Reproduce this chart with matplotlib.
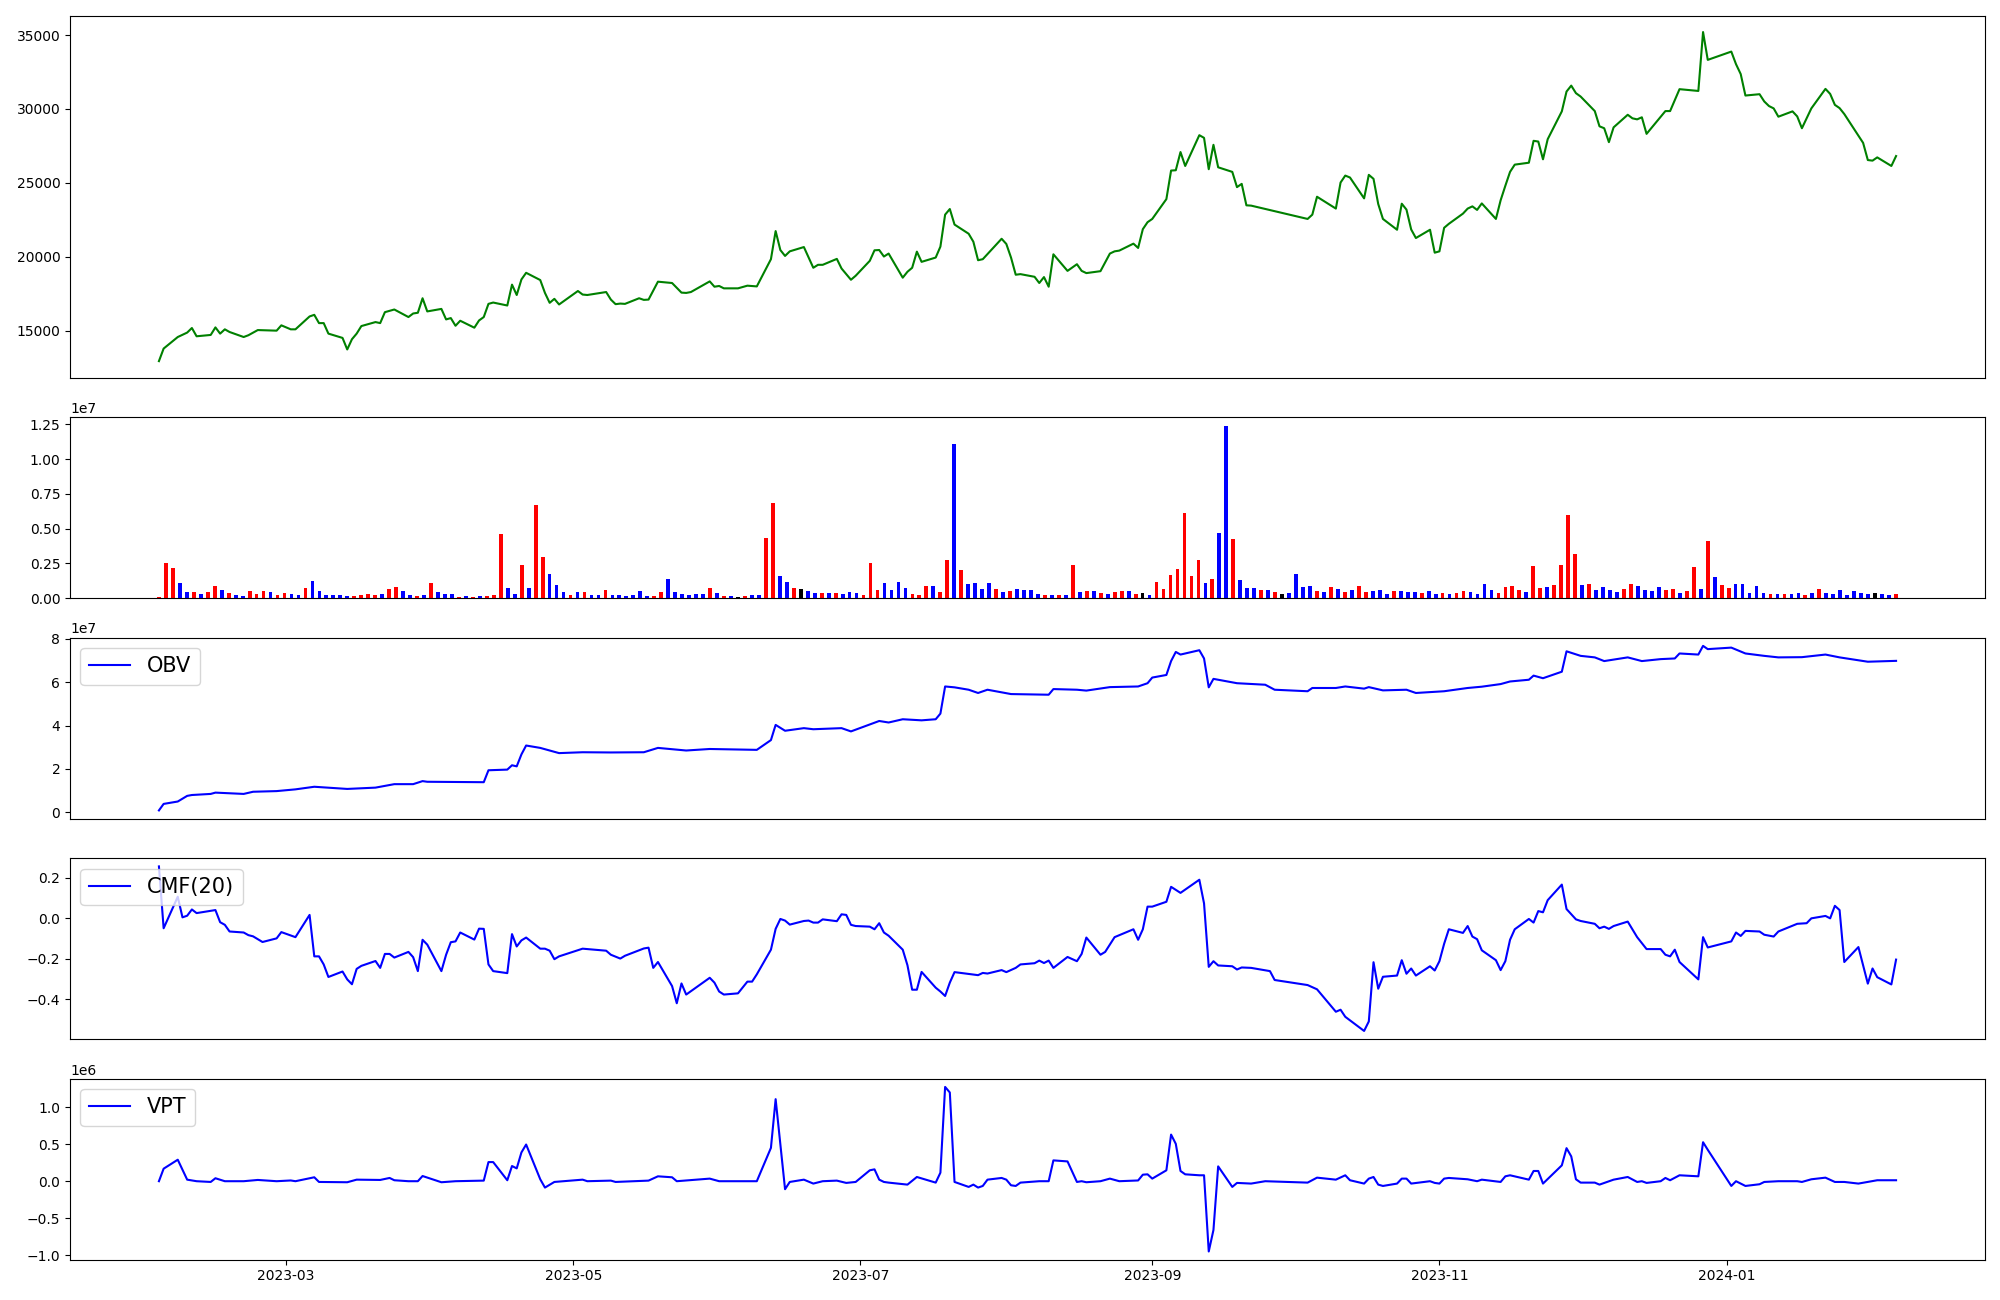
import numpy as np
import pandas as pd
import matplotlib
matplotlib.use("Agg")
import matplotlib.pyplot as plt
import matplotlib.dates as mdates

# ---------------- data ----------------
price_points = [("2023-02-02",12960),("2023-02-03",13810),("2023-02-06",14590),("2023-02-08",14890),("2023-02-09",15200),("2023-02-10",14640),("2023-02-13",14730),("2023-02-14",15240),("2023-02-15",14820),("2023-02-16",15110),("2023-02-17",14930),("2023-02-20",14590),("2023-02-21",14710),("2023-02-23",15060),("2023-02-27",15020),("2023-02-28",15380),("2023-03-02",15110),("2023-03-03",15110),("2023-03-06",15980),("2023-03-07",16090),("2023-03-08",15530),("2023-03-09",15530),("2023-03-10",14820),("2023-03-13",14530),("2023-03-14",13750),("2023-03-15",14440),("2023-03-16",14820),("2023-03-17",15330),("2023-03-20",15600),("2023-03-21",15530),("2023-03-22",16270),("2023-03-24",16450),("2023-03-27",15940),("2023-03-28",16180),("2023-03-29",16230),("2023-03-30",17210),("2023-03-31",16320),("2023-04-03",16490),("2023-04-04",15780),("2023-04-05",15870),("2023-04-06",15350),("2023-04-07",15690),("2023-04-10",15220),("2023-04-11",15710),("2023-04-12",15940),("2023-04-13",16830),("2023-04-14",16920),("2023-04-17",16720),("2023-04-18",18130),("2023-04-19",17430),("2023-04-20",18480),("2023-04-21",18930),("2023-04-24",18440),("2023-04-25",17570),("2023-04-26",16900),("2023-04-27",17170),("2023-04-28",16790),("2023-05-02",17700),("2023-05-03",17460),("2023-05-04",17430),("2023-05-08",17630),("2023-05-09",17120),("2023-05-10",16810),("2023-05-11",16850),("2023-05-12",16830),("2023-05-15",17210),("2023-05-16",17100),("2023-05-17",17120),("2023-05-19",18330),("2023-05-22",18240),("2023-05-24",17590),("2023-05-25",17570),("2023-05-26",17630),("2023-05-30",18350),("2023-05-31",17990),("2023-06-01",18040),("2023-06-02",17880),("2023-06-05",17880),("2023-06-07",18060),("2023-06-09",18010),("2023-06-12",19850),("2023-06-13",21750),("2023-06-14",20470),("2023-06-15",20070),("2023-06-16",20380),("2023-06-19",20670),("2023-06-21",19270),("2023-06-22",19470),("2023-06-23",19470),("2023-06-26",19870),("2023-06-27",19220),("2023-06-29",18460),("2023-06-30",18730),("2023-07-03",19740),("2023-07-04",20450),("2023-07-05",20470),("2023-07-06",20030),("2023-07-07",20230),("2023-07-10",18600),("2023-07-11",19000),("2023-07-12",19270),("2023-07-13",20360),("2023-07-14",19670),("2023-07-17",19960),("2023-07-18",20700),("2023-07-19",22860),("2023-07-20",23240),("2023-07-21",22190),("2023-07-24",21570),("2023-07-25",21030),("2023-07-26",19780),("2023-07-27",19850),("2023-07-31",21230),("2023-08-01",20880),("2023-08-02",19960),("2023-08-03",18800),("2023-08-04",18840),("2023-08-07",18660),("2023-08-08",18240),("2023-08-09",18640),("2023-08-10",17990),("2023-08-11",20180),("2023-08-14",19060),("2023-08-16",19510),("2023-08-17",19060),("2023-08-18",18910),("2023-08-21",19040),("2023-08-23",20230),("2023-08-24",20380),("2023-08-25",20430),("2023-08-28",20900),("2023-08-29",20610),("2023-08-30",21880),("2023-08-31",22350),("2023-09-01",22570),("2023-09-04",23910),("2023-09-05",25840),("2023-09-06",25860),("2023-09-07",27090),("2023-09-08",26150),("2023-09-11",28230),("2023-09-12",28050),("2023-09-13",25930),("2023-09-14",27580),("2023-09-15",26060),("2023-09-18",25750),("2023-09-19",24720),("2023-09-20",24940),("2023-09-21",23490),("2023-09-22",23470),("2023-10-04",22570),("2023-10-05",22860),("2023-10-06",24070),("2023-10-10",23270),("2023-10-11",25030),("2023-10-12",25500),("2023-10-13",25370),("2023-10-16",23960),("2023-10-17",25550),("2023-10-18",25280),("2023-10-19",23580),("2023-10-20",22570),("2023-10-23",21840),("2023-10-24",23600),("2023-10-25",23200),("2023-10-26",21860),("2023-10-27",21280),("2023-10-30",21840),("2023-10-31",20290),("2023-11-01",20380),("2023-11-02",21970),("2023-11-03",22240),("2023-11-06",22930),("2023-11-07",23270),("2023-11-08",23420),("2023-11-09",23180),("2023-11-10",23620),("2023-11-13",22570),("2023-11-14",23830),("2023-11-15",24810),("2023-11-16",25750),("2023-11-17",26240),("2023-11-20",26370),("2023-11-21",27850),("2023-11-22",27800),("2023-11-23",26600),("2023-11-24",27960),("2023-11-27",29840),("2023-11-28",31180),("2023-11-29",31580),("2023-11-30",31070),("2023-12-01",30840),("2023-12-04",29860),("2023-12-05",28830),("2023-12-06",28700),("2023-12-07",27760),("2023-12-08",28760),("2023-12-11",29610),("2023-12-12",29370),("2023-12-13",29300),("2023-12-14",29440),("2023-12-15",28320),("2023-12-19",29860),("2023-12-20",29860),("2023-12-22",31340),("2023-12-26",31220),("2023-12-27",35200),("2023-12-28",33320),("2024-01-02",33880),("2024-01-03",33030),("2024-01-04",32360),("2024-01-05",30910),("2024-01-08",31000),("2024-01-09",30510),("2024-01-10",30200),("2024-01-11",30040),("2024-01-12",29480),("2024-01-15",29840),("2024-01-16",29500),("2024-01-17",28700),("2024-01-19",30040),("2024-01-22",31360),("2024-01-23",31020),("2024-01-24",30280),("2024-01-25",30060),("2024-01-26",29660),("2024-01-30",27710),("2024-01-31",26550),("2024-02-01",26510),("2024-02-02",26730),("2024-02-05",26150),("2024-02-06",26820)]

# daily volume, in millions of shares (one bar per trading day)
volume_millions = [0.07,2.50,2.15,1.07,0.43,0.43,0.29,0.43,0.86,0.57,
                   0.36,0.21,0.14,0.50,0.29,0.50,0.43,0.21,0.36,0.29,
                   0.21,0.72,1.22,0.50,0.21,0.21,0.21,0.14,0.14,0.21,
                   0.29,0.21,0.29,0.64,0.79,0.50,0.21,0.14,0.21,1.07,
                   0.43,0.29,0.29,0.07,0.14,0.07,0.14,0.14,0.21,4.58,
                   0.72,0.29,2.36,0.72,6.73,2.93,1.72,0.93,0.43,0.21,
                   0.43,0.43,0.21,0.21,0.57,0.21,0.21,0.14,0.21,0.50,
                   0.14,0.14,0.43,1.36,0.43,0.29,0.21,0.29,0.29,0.72,
                   0.36,0.14,0.14,0.07,0.14,0.21,0.21,4.29,6.87,1.57,
                   1.15,0.72,0.64,0.50,0.36,0.36,0.36,0.36,0.29,0.43,
                   0.36,0.21,2.50,0.57,1.07,0.57,1.15,0.72,0.29,0.21,
                   0.86,0.86,0.43,2.72,11.09,2.00,1.00,1.07,0.64,1.07,
                   0.64,0.43,0.50,0.64,0.57,0.57,0.29,0.21,0.21,0.21,
                   0.21,2.36,0.43,0.50,0.50,0.36,0.29,0.43,0.50,0.50,
                   0.29,0.36,0.21,1.15,0.64,1.65,2.08,6.15,1.57,2.72,
                   1.07,1.36,4.65,12.40,4.22,1.29,0.72,0.72,0.57,0.57,
                   0.43,0.29,0.36,1.72,0.79,0.86,0.50,0.43,0.79,0.64,
                   0.43,0.57,0.86,0.43,0.50,0.57,0.29,0.50,0.50,0.43,
                   0.43,0.36,0.50,0.29,0.36,0.29,0.36,0.50,0.43,0.29,
                   1.00,0.57,0.36,0.79,0.86,0.57,0.43,2.29,0.72,0.79,
                   0.93,2.36,6.01,3.15,0.93,1.00,0.57,0.79,0.57,0.43,
                   0.64,1.00,0.86,0.57,0.50,0.79,0.57,0.64,0.36,0.50,
                   2.22,0.64,4.08,1.50,0.93,0.72,1.00,1.00,0.36,0.86,
                   0.36,0.29,0.29,0.29,0.29,0.36,0.21,0.36,0.64,0.36,
                   0.29,0.57,0.21,0.50,0.36,0.29,0.36,0.29,0.21,0.29]

# bar colour per day: r = red, b = blue, k = black
volume_colour_codes = ("rrrbbrbrrb" "rbbrrrbrrb" "brbbbbbbrr" "rrbrrbbrbr" "bbbrbrbrrr"
                       "bbrbrrbbbr" "brbbrbbbbb" "brrbbbbbbr" "brbkrbbrrb" "brkbbrbrbb"
                       "brrrbbbbrr" "rbrrbrbbbb" "rbrbbbbrbr" "brbrbrbrrb" "rkbrrrrrrr"
                       "brbbrbbbrb" "rkbbbbrbrb" "rbrrbbbrbb" "brbbrbrrbb" "bbrrrrbrrb"
                       "rrrrbrbbbb" "rrbbbbrrbr" "rbrbrrbbbb" "brbrbbrbrb" "bbbbbbkbbr")
volume_first_day = "2023-02-02"
volume_last_day = "2024-02-06"

# OBV in units of 1e7
obv_points = [("2023-02-02",0.09),("2023-02-03",0.39),("2023-02-06",0.50),("2023-02-08",0.76),("2023-02-09",0.80),("2023-02-13",0.85),("2023-02-14",0.91),("2023-02-20",0.85),("2023-02-22",0.95),("2023-02-27",0.98),("2023-03-03",1.06),("2023-03-07",1.18),("2023-03-14",1.08),("2023-03-20",1.14),("2023-03-24",1.30),("2023-03-28",1.30),("2023-03-30",1.44),("2023-03-31",1.41),("2023-04-12",1.39),("2023-04-13",1.94),("2023-04-17",1.97),("2023-04-18",2.17),("2023-04-19",2.12),("2023-04-20",2.67),("2023-04-21",3.08),("2023-04-24",2.97),("2023-04-28",2.73),("2023-05-03",2.77),("2023-05-09",2.76),("2023-05-16",2.77),("2023-05-19",2.97),("2023-05-25",2.85),("2023-05-30",2.92),("2023-06-09",2.88),("2023-06-12",3.33),("2023-06-13",4.03),("2023-06-15",3.76),("2023-06-19",3.88),("2023-06-21",3.83),("2023-06-27",3.88),("2023-06-29",3.73),("2023-07-05",4.21),("2023-07-07",4.14),("2023-07-10",4.29),("2023-07-14",4.24),("2023-07-17",4.29),("2023-07-18",4.55),("2023-07-19",5.80),("2023-07-21",5.76),("2023-07-24",5.65),("2023-07-26",5.50),("2023-07-28",5.65),("2023-08-02",5.45),("2023-08-10",5.42),("2023-08-11",5.68),("2023-08-16",5.65),("2023-08-18",5.61),("2023-08-23",5.77),("2023-08-29",5.80),("2023-08-31",5.95),("2023-09-01",6.21),("2023-09-04",6.33),("2023-09-05",6.97),("2023-09-06",7.39),("2023-09-07",7.27),("2023-09-11",7.47),("2023-09-12",7.09),("2023-09-13",5.76),("2023-09-14",6.15),("2023-09-19",5.95),("2023-09-25",5.88),("2023-09-27",5.65),("2023-10-04",5.58),("2023-10-05",5.73),("2023-10-10",5.73),("2023-10-12",5.80),("2023-10-16",5.70),("2023-10-17",5.77),("2023-10-20",5.62),("2023-10-25",5.65),("2023-10-27",5.50),("2023-11-02",5.58),("2023-11-07",5.73),("2023-11-10",5.79),("2023-11-14",5.91),("2023-11-16",6.03),("2023-11-20",6.11),("2023-11-21",6.30),("2023-11-23",6.18),("2023-11-27",6.48),("2023-11-28",7.42),("2023-12-01",7.21),("2023-12-04",7.14),("2023-12-06",6.97),("2023-12-11",7.14),("2023-12-14",6.97),("2023-12-18",7.06),("2023-12-21",7.09),("2023-12-22",7.32),("2023-12-26",7.27),("2023-12-27",7.67),("2023-12-28",7.52),("2024-01-02",7.59),("2024-01-05",7.32),("2024-01-09",7.21),("2024-01-12",7.14),("2024-01-17",7.15),("2024-01-22",7.27),("2024-01-25",7.14),("2024-01-31",6.94),("2024-02-06",6.98)]

cmf_points = [("2023-02-02",0.257),("2023-02-03",-0.049),("2023-02-06",0.107),("2023-02-07",0.005),("2023-02-08",0.013),("2023-02-09",0.044),("2023-02-10",0.026),("2023-02-14",0.041),("2023-02-15",-0.019),("2023-02-16",-0.032),("2023-02-17",-0.065),("2023-02-20",-0.070),("2023-02-21",-0.083),("2023-02-22",-0.089),("2023-02-24",-0.117),("2023-02-27",-0.099),("2023-02-28",-0.068),("2023-03-03",-0.093),("2023-03-06",0.017),("2023-03-07",-0.188),("2023-03-08",-0.188),("2023-03-09",-0.228),("2023-03-10",-0.290),("2023-03-13",-0.263),("2023-03-14",-0.302),("2023-03-15",-0.326),("2023-03-16",-0.250),("2023-03-17",-0.235),("2023-03-20",-0.211),("2023-03-21",-0.245),("2023-03-22",-0.176),("2023-03-23",-0.176),("2023-03-24",-0.194),("2023-03-27",-0.166),("2023-03-28",-0.192),("2023-03-29",-0.261),("2023-03-30",-0.106),("2023-03-31",-0.130),("2023-04-03",-0.261),("2023-04-04",-0.180),("2023-04-05",-0.118),("2023-04-06",-0.114),("2023-04-07",-0.070),("2023-04-10",-0.105),("2023-04-11",-0.051),("2023-04-12",-0.052),("2023-04-13",-0.228),("2023-04-14",-0.261),("2023-04-17",-0.271),("2023-04-18",-0.078),("2023-04-19",-0.139),("2023-04-20",-0.109),("2023-04-21",-0.095),("2023-04-24",-0.150),("2023-04-25",-0.150),("2023-04-26",-0.160),("2023-04-27",-0.202),("2023-04-28",-0.188),("2023-05-03",-0.150),("2023-05-08",-0.160),("2023-05-09",-0.180),("2023-05-11",-0.199),("2023-05-12",-0.185),("2023-05-16",-0.149),("2023-05-17",-0.145),("2023-05-18",-0.245),("2023-05-19",-0.216),("2023-05-22",-0.335),("2023-05-23",-0.420),("2023-05-24",-0.322),("2023-05-25",-0.377),("2023-05-30",-0.294),("2023-05-31",-0.318),("2023-06-01",-0.362),("2023-06-02",-0.377),("2023-06-05",-0.371),("2023-06-07",-0.313),("2023-06-08",-0.313),("2023-06-09",-0.277),("2023-06-12",-0.155),("2023-06-13",-0.052),("2023-06-14",-0.003),("2023-06-15",-0.011),("2023-06-16",-0.031),("2023-06-19",-0.013),("2023-06-20",-0.011),("2023-06-21",-0.021),("2023-06-22",-0.021),("2023-06-23",-0.005),("2023-06-26",-0.014),("2023-06-27",0.020),("2023-06-28",0.017),("2023-06-29",-0.032),("2023-06-30",-0.038),("2023-07-03",-0.041),("2023-07-04",-0.054),("2023-07-05",-0.024),("2023-07-06",-0.070),("2023-07-07",-0.086),("2023-07-10",-0.155),("2023-07-11",-0.232),("2023-07-12",-0.353),("2023-07-13",-0.353),("2023-07-14",-0.265),("2023-07-17",-0.343),("2023-07-18",-0.362),("2023-07-19",-0.384),("2023-07-20",-0.318),("2023-07-21",-0.266),("2023-07-26",-0.281),("2023-07-27",-0.270),("2023-07-28",-0.273),("2023-07-31",-0.256),("2023-08-01",-0.266),("2023-08-03",-0.245),("2023-08-04",-0.228),("2023-08-07",-0.222),("2023-08-08",-0.209),("2023-08-09",-0.221),("2023-08-10",-0.209),("2023-08-11",-0.245),("2023-08-14",-0.191),("2023-08-16",-0.212),("2023-08-17",-0.176),("2023-08-18",-0.095),("2023-08-21",-0.180),("2023-08-22",-0.166),("2023-08-23",-0.130),("2023-08-24",-0.093),("2023-08-28",-0.054),("2023-08-29",-0.106),("2023-08-30",-0.054),("2023-08-31",0.058),("2023-09-01",0.058),("2023-09-04",0.082),("2023-09-05",0.156),("2023-09-07",0.126),("2023-09-11",0.191),("2023-09-12",0.074),("2023-09-13",-0.240),("2023-09-14",-0.212),("2023-09-15",-0.233),("2023-09-18",-0.237),("2023-09-19",-0.253),("2023-09-20",-0.243),("2023-09-22",-0.245),("2023-09-26",-0.261),("2023-09-27",-0.305),("2023-10-04",-0.330),("2023-10-06",-0.351),("2023-10-10",-0.462),("2023-10-11",-0.452),("2023-10-12",-0.487),("2023-10-16",-0.557),("2023-10-17",-0.510),("2023-10-18",-0.217),("2023-10-19",-0.348),("2023-10-20",-0.289),("2023-10-23",-0.283),("2023-10-24",-0.207),("2023-10-25",-0.274),("2023-10-26",-0.248),("2023-10-27",-0.283),("2023-10-30",-0.237),("2023-10-31",-0.258),("2023-11-01",-0.212),("2023-11-02",-0.126),("2023-11-03",-0.054),("2023-11-06",-0.072),("2023-11-07",-0.038),("2023-11-08",-0.090),("2023-11-09",-0.103),("2023-11-10",-0.158),("2023-11-13",-0.207),("2023-11-14",-0.256),("2023-11-15",-0.212),("2023-11-16",-0.106),("2023-11-17",-0.054),("2023-11-20",-0.003),("2023-11-21",-0.021),("2023-11-22",0.036),("2023-11-23",0.030),("2023-11-24",0.090),("2023-11-27",0.167),("2023-11-28",0.046),("2023-11-30",-0.005),("2023-12-01",-0.013),("2023-12-04",-0.027),("2023-12-05",-0.049),("2023-12-06",-0.041),("2023-12-07",-0.052),("2023-12-08",-0.038),("2023-12-11",-0.016),("2023-12-13",-0.093),("2023-12-15",-0.152),("2023-12-18",-0.152),("2023-12-19",-0.180),("2023-12-20",-0.188),("2023-12-21",-0.155),("2023-12-22",-0.216),("2023-12-26",-0.302),("2023-12-27",-0.093),("2023-12-28",-0.144),("2024-01-02",-0.114),("2024-01-03",-0.070),("2024-01-04",-0.087),("2024-01-05",-0.062),("2024-01-08",-0.065),("2024-01-09",-0.081),("2024-01-11",-0.090),("2024-01-12",-0.065),("2024-01-16",-0.027),("2024-01-18",-0.024),("2024-01-19",0.000),("2024-01-22",0.012),("2024-01-23",0.000),("2024-01-24",0.062),("2024-01-25",0.041),("2024-01-26",-0.216),("2024-01-29",-0.142),("2024-01-31",-0.323),("2024-02-01",-0.248),("2024-02-02",-0.291),("2024-02-05",-0.327),("2024-02-06",-0.204)]

# VPT in units of 1e6
vpt_points = [("2023-02-02",0.0),("2023-02-03",0.169),("2023-02-06",0.290),("2023-02-08",0.021),("2023-02-10",0.0),("2023-02-13",-0.01),("2023-02-14",0.04),("2023-02-16",0.0),("2023-02-20",0.0),("2023-02-23",0.017),("2023-02-27",0.0),("2023-03-02",0.01),("2023-03-03",0.0),("2023-03-07",0.053),("2023-03-08",-0.01),("2023-03-14",-0.014),("2023-03-16",0.021),("2023-03-21",0.017),("2023-03-23",0.044),("2023-03-24",0.013),("2023-03-27",0.0),("2023-03-29",0.0),("2023-03-30",0.07),("2023-04-03",-0.014),("2023-04-06",0.0),("2023-04-12",0.008),("2023-04-13",0.258),("2023-04-14",0.258),("2023-04-17",0.013),("2023-04-18",0.205),("2023-04-19",0.173),("2023-04-20",0.388),("2023-04-21",0.495),("2023-04-24",0.026),("2023-04-25",-0.086),("2023-04-27",-0.010),("2023-05-03",0.021),("2023-05-04",0.0),("2023-05-09",0.008),("2023-05-10",-0.01),("2023-05-17",0.008),("2023-05-19",0.066),("2023-05-22",0.053),("2023-05-23",0.0),("2023-05-30",0.035),("2023-06-01",0.0),("2023-06-09",0.0),("2023-06-12",0.450),("2023-06-13",1.107),("2023-06-15",-0.108),("2023-06-16",-0.01),("2023-06-19",0.021),("2023-06-21",-0.032),("2023-06-23",0.0),("2023-06-26",0.008),("2023-06-28",-0.023),("2023-06-30",-0.01),("2023-07-03",0.147),("2023-07-04",0.160),("2023-07-05",0.021),("2023-07-06",-0.01),("2023-07-07",-0.019),("2023-07-11",-0.046),("2023-07-13",0.057),("2023-07-17",-0.019),("2023-07-18",0.115),("2023-07-19",1.272),("2023-07-20",1.197),("2023-07-21",-0.01),("2023-07-24",-0.077),("2023-07-25",-0.046),("2023-07-26",-0.086),("2023-07-27",-0.064),("2023-07-28",0.021),("2023-07-31",0.044),("2023-08-01",0.021),("2023-08-02",-0.055),("2023-08-03",-0.064),("2023-08-04",-0.019),("2023-08-08",0.0),("2023-08-10",0.0),("2023-08-11",0.281),("2023-08-14",0.267),("2023-08-16",-0.01),("2023-08-17",0.0),("2023-08-18",-0.014),("2023-08-21",0.0),("2023-08-23",0.035),("2023-08-25",0.0),("2023-08-29",0.01),("2023-08-30",0.088),("2023-08-31",0.093),("2023-09-01",0.035),("2023-09-04",0.147),("2023-09-05",0.629),("2023-09-06",0.504),("2023-09-07",0.138),("2023-09-08",0.093),("2023-09-11",0.080),("2023-09-12",0.080),("2023-09-13",-0.948),("2023-09-14",-0.658),("2023-09-15",0.200),("2023-09-18",-0.077),("2023-09-19",-0.023),("2023-09-22",-0.032),("2023-09-25",0.0),("2023-10-04",-0.019),("2023-10-06",0.048),("2023-10-10",0.021),("2023-10-12",0.080),("2023-10-13",0.013),("2023-10-16",-0.032),("2023-10-17",0.035),("2023-10-18",0.057),("2023-10-19",-0.046),("2023-10-20",-0.064),("2023-10-23",-0.032),("2023-10-24",0.035),("2023-10-25",0.035),("2023-10-26",-0.032),("2023-10-30",0.0),("2023-10-31",-0.023),("2023-11-01",-0.032),("2023-11-02",0.035),("2023-11-03",0.044),("2023-11-07",0.026),("2023-11-09",0.0),("2023-11-10",0.021),("2023-11-14",-0.01),("2023-11-15",0.066),("2023-11-16",0.080),("2023-11-20",0.021),("2023-11-21",0.138),("2023-11-22",0.138),("2023-11-23",-0.032),("2023-11-27",0.214),("2023-11-28",0.446),("2023-11-29",0.335),("2023-11-30",0.026),("2023-12-01",-0.019),("2023-12-04",-0.019),("2023-12-05",-0.046),("2023-12-08",0.021),("2023-12-11",0.057),("2023-12-13",-0.010),("2023-12-14",0.0),("2023-12-15",-0.023),("2023-12-18",0.0),("2023-12-19",0.044),("2023-12-20",0.013),("2023-12-22",0.080),("2023-12-26",0.066),("2023-12-27",0.526),("2023-12-28",0.424),("2024-01-02",-0.064),("2024-01-03",0.0),("2024-01-05",-0.064),("2024-01-08",-0.041),("2024-01-09",-0.010),("2024-01-12",0.0),("2024-01-16",0.0),("2024-01-17",-0.01),("2024-01-19",0.026),("2024-01-22",0.048),("2024-01-24",-0.01),("2024-01-26",-0.01),("2024-01-29",-0.032),("2024-01-31",-0.01),("2024-02-02",0.013),("2024-02-06",0.013)]

# ---------------- helpers ----------------
def unpack(points, scale=1.0):
    d = pd.to_datetime([p[0] for p in points])
    v = np.array([p[1] for p in points], dtype=float) * scale
    return d, v

price_d, price_v = unpack(price_points)
obv_d, obv_v = unpack(obv_points, 1e7)
cmf_d, cmf_v = unpack(cmf_points)
vpt_d, vpt_v = unpack(vpt_points, 1e6)

volume = np.array(volume_millions) * 1e6
colour_map = {"r": "red", "b": "blue", "k": "black"}
bar_colours = [colour_map[c] for c in volume_colour_codes]
n_bars = len(volume)
bar_pos = np.linspace(mdates.date2num(pd.Timestamp(volume_first_day)),
                      mdates.date2num(pd.Timestamp(volume_last_day)), n_bars)
bar_x = mdates.num2date(bar_pos)

# ---------------- figure ----------------
fig = plt.figure(figsize=(20, 13), dpi=100)
gs = fig.add_gridspec(5, 1, height_ratios=[2, 1, 1, 1, 1],
                      left=0.035, right=0.9925, top=0.988, bottom=0.031,
                      hspace=0.182)
ax0 = fig.add_subplot(gs[0])
ax1 = fig.add_subplot(gs[1], sharex=ax0)
ax2 = fig.add_subplot(gs[2], sharex=ax0)
ax3 = fig.add_subplot(gs[3], sharex=ax0)
ax4 = fig.add_subplot(gs[4], sharex=ax0)

ax0.plot(price_d, price_v, color="green", linewidth=1.5)

ax1.bar(bar_x, volume, width=0.8, color=bar_colours)

ax2.plot(obv_d, obv_v, color="blue", linewidth=1.5, label="OBV")
ax2.legend(loc="upper left", fontsize=15)

ax3.plot(cmf_d, cmf_v, color="blue", linewidth=1.5, label="CMF(20)")
ax3.legend(loc="upper left", fontsize=15)

ax4.plot(vpt_d, vpt_v, color="blue", linewidth=1.5, label="VPT")
ax4.legend(loc="upper left", fontsize=15)

ax4.xaxis.set_major_locator(mdates.MonthLocator(bymonth=[1, 3, 5, 7, 9, 11]))
ax4.xaxis.set_major_formatter(mdates.DateFormatter("%Y-%m"))
for ax in (ax0, ax1, ax2, ax3):
    ax.tick_params(axis="x", bottom=False, labelbottom=False)

fig.savefig("out.png", dpi=100)
